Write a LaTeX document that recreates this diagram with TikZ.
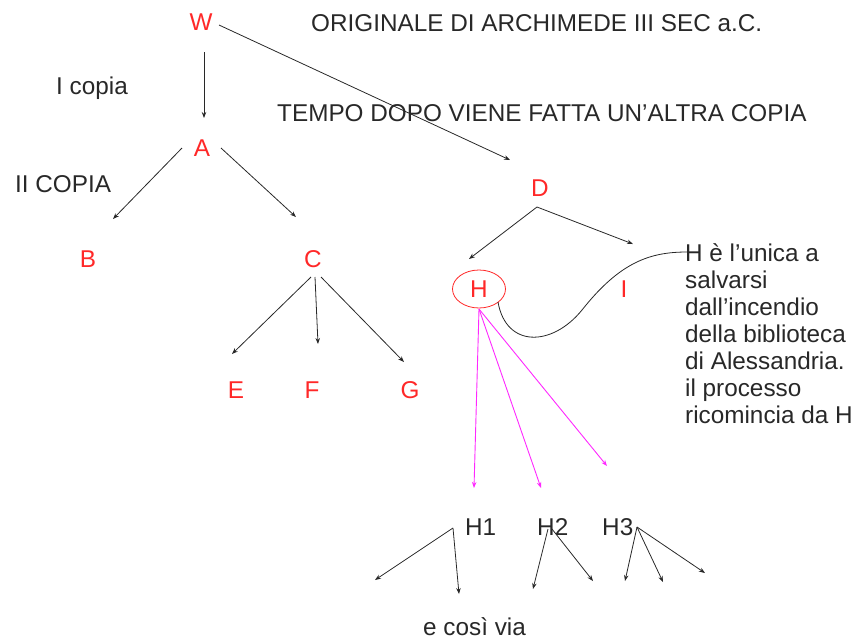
\documentclass[tikz,border=0pt]{standalone}
\usepackage{fontspec}
\setmainfont{Liberation Sans}
\usetikzlibrary{arrows.meta,shapes.geometric}
\definecolor{letterred}{RGB}{255,40,40}
\definecolor{copyline}{RGB}{255,40,255}
\definecolor{ink}{RGB}{40,40,40}
\begin{document}
\begin{tikzpicture}[x=1pt,y=-1pt,
  every node/.style={font=\fontsize{24.3}{27}\selectfont, inner sep=0pt},
  letter/.style={text=letterred},
  note/.style={text=ink, anchor=base west},
  link/.style={draw=ink, line width=0.8pt, -{Stealth[length=6pt,width=4.5pt]}},
  hlink/.style={draw=copyline, line width=0.9pt, -{Stealth[length=6pt,width=4.5pt]}}]
\useasboundingbox (0,0) rectangle (857,641);

% manuscripts
\node[letter] (W) at (201,22) {W};
\node[letter] (A) at (202,148) {A};
\node[letter] (B) at (88,259) {B};
\node[letter] (C) at (313,259) {C};
\node[letter] (D) at (540,188) {D};
\node[letter, draw=letterred, ellipse, line width=0.8pt, minimum width=53pt, minimum height=38pt] (H) at (479,289) {H};
\node[letter] (I) at (624,289) {I};
\node[letter] (E) at (236,390) {E};
\node[letter] (F) at (312,390) {F};
\node[letter] (G) at (410,390) {G};

% captions
\node[note] (orig) at (311,31) {ORIGINALE DI ARCHIMEDE III SEC a.C.};
\node[note] (c1) at (56,94) {I copia};
\node[note] (tempo) at (277,121) {TEMPO DOPO VIENE FATTA UN’ALTRA COPIA};
\node[note] (c2) at (15,192) {II COPIA};
\node[note, align=left, anchor=north west, text depth=0pt] (story) at (685,243)
  {H è l’unica a\\salvarsi\\dall’incendio\\della biblioteca\\di Alessandria.\\il processo\\ricomincia da H};
\node[note] (H1) at (465,535) {H1};
\node[note] (H2) at (537,535) {H2};
\node[note] (H3) at (602,535) {H3};
\node[note] (via) at (423,635) {e così via};

% arrow ends
\coordinate (wa0) at (204,52);   \coordinate (wa1) at (204,118);
\coordinate (wd0) at (219,25);   \coordinate (wd1) at (510,160);
\coordinate (ab0) at (182,148);  \coordinate (ab1) at (113,219);
\coordinate (ac0) at (221,148);  \coordinate (ac1) at (296,217);
\coordinate (ce0) at (311,277);  \coordinate (ce1) at (232,354);
\coordinate (cf0) at (315,277);  \coordinate (cf1) at (318,344);
\coordinate (cg0) at (321,277);  \coordinate (cg1) at (404,362);
\coordinate (dh0) at (537,207);  \coordinate (dh1) at (469,259);
\coordinate (di1) at (633,244);
\coordinate (hx) at (479,309);
\coordinate (h1t) at (474,488);  \coordinate (h2t) at (541,488);
\coordinate (h3t) at (607,466);
\coordinate (p1) at (453,528);   \coordinate (p1a) at (375,580); \coordinate (p1b) at (459,594);
\coordinate (p2) at (548,529);   \coordinate (p2a) at (533,589);
\coordinate (p2s) at (552,529);  \coordinate (p2b) at (593,581);
\coordinate (p3) at (637,527);   \coordinate (p3a) at (625,581);
\coordinate (p3b) at (663,582);  \coordinate (p3c) at (705,573);
\coordinate (hook) at (498,302); \coordinate (tag) at (687,252);

% first copies
\draw[link] (wa0) -- (wa1);
\draw[link] (wd0) -- (wd1);
\draw[link] (ab0) -- (ab1);
\draw[link] (ac0) -- (ac1);
\draw[link] (ce0) -- (ce1);
\draw[link] (cf0) -- (cf1);
\draw[link] (cg0) -- (cg1);
\draw[link] (dh0) -- (dh1);
\draw[link] (dh0) -- (di1);

% the surviving copy
\draw[draw=ink, line width=0.8pt] (hook) .. controls (506,348) and (552,347) .. (582,310)
  .. controls (620,262) and (650,252) .. (tag);
\draw[hlink] (hx) -- (h1t);
\draw[hlink] (hx) -- (h2t);
\draw[hlink] (hx) -- (h3t);

% later copies
\draw[link] (p1) -- (p1a);
\draw[link] (p1) -- (p1b);
\draw[link] (p2) -- (p2a);
\draw[link] (p2s) -- (p2b);
\draw[link] (p3) -- (p3a);
\draw[link] (p3) -- (p3b);
\draw[link] (p3) -- (p3c);
\end{tikzpicture}
\end{document}
